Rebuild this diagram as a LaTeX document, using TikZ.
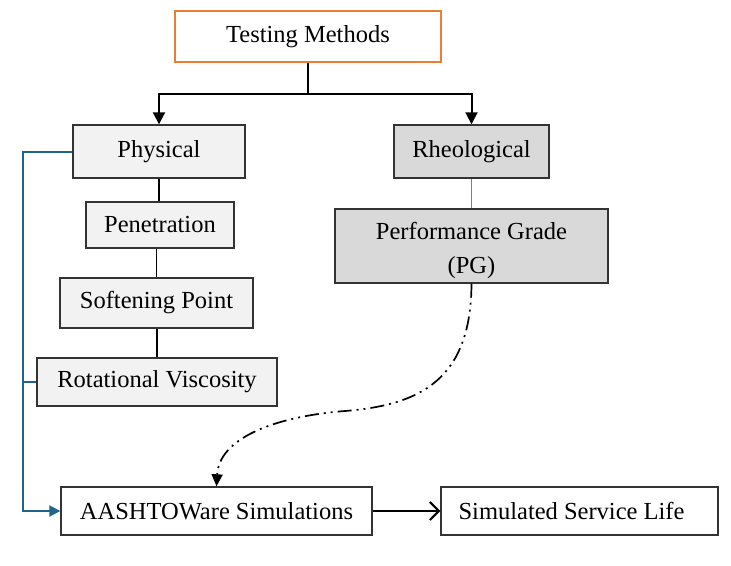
\documentclass[tikz,border=0pt]{standalone}
\usepackage{fontspec}
\setmainfont{Liberation Serif}
\usetikzlibrary{arrows.meta}
\definecolor{orangeb}{HTML}{ED7D31}
\definecolor{lightf}{HTML}{F2F2F2}
\definecolor{darkf}{HTML}{D9D9D9}
\definecolor{bordc}{HTML}{333333}
\definecolor{bluec}{RGB}{30,100,140}
\tikzset{
  box/.style={draw=bordc, line width=1.4pt, inner sep=0pt, anchor=center,
    font=\fontsize{24.5}{34}\selectfont, align=center},
  conn/.style={line width=2pt, black},
  thin/.style={line width=1.3pt, black},
}
\begin{document}
\begin{tikzpicture}[x=1pt,y=-1pt]
\useasboundingbox (0,0) rectangle (731,565);
\node[box, draw=orangeb, fill=white, minimum width=266pt, minimum height=51pt] (tm) at (308,36.5) {Testing Methods};
\node[box, fill=lightf, minimum width=172pt, minimum height=53pt] (phys) at (159,151.5) {Physical};
\node[box, fill=darkf, minimum width=155pt, minimum height=53pt] (rheo) at (471.5,151.5) {Rheological};
\node[box, fill=lightf, minimum width=148pt, minimum height=46pt] (pen) at (160,225) {Penetration};
\node[box, fill=lightf, minimum width=193pt, minimum height=50pt] (soft) at (156.5,303) {Softening Point};
\node[box, fill=lightf, minimum width=240pt, minimum height=48pt] (rot) at (157,382) {Rotational Viscosity};
\node[box, fill=darkf, minimum width=273pt, minimum height=74pt] (pg) at (471.5,246) {};
\node[font=\fontsize{24.5}{34}\selectfont, align=center, inner sep=0pt] (pgt) at (471.5,250) {Performance Grade\\(PG)};
\node[box, fill=white, minimum width=311pt, minimum height=48pt] (aash) at (216.5,511) {AASHTOWare Simulations};
\node[box, fill=white, minimum width=277pt, minimum height=48pt] (ssl) at (579.5,511) {Simulated Service Life\hspace*{16pt}};

\coordinate (split) at (308,94);
\coordinate (bl) at (23,0);

\draw[conn] (tm.south) -- (split);
\draw[conn, -{Triangle[length=12pt,width=12pt]}] (split) -| (phys.north);
\draw[conn, -{Triangle[length=12pt,width=12pt]}] (split) -| (rheo.north);

\draw[thin] (phys.south) -- (phys.south |- pen.north);
\draw[thin] (soft.north) -- (soft.north |- pen.south);
\draw[thin] (rot.north) -- (rot.north |- soft.south);
\draw[line width=1.2pt, gray] (rheo.south) -- (pg.north);

\draw[line width=2pt, bluec, -{Triangle[length=11pt,width=11pt]}] (phys.west) -- (phys.west -| bl) |- (aash.west);
\draw[line width=2pt, bluec] (rot.west -| bl) -- (rot.west);

\draw[line width=1.7pt, black, dash pattern=on 14pt off 5pt on 2pt off 5pt on 2pt off 5pt,
  -{Triangle[length=12pt,width=11pt]}]
  (pg.south) .. controls (471,380) and (420,405) .. (345,411)
  .. controls (270,417) and (219,440) .. (aash.north);

\draw[line width=2pt, black, -{Straight Barb[length=9pt,width=18pt]}] (aash.east) -- (ssl.west);
\end{tikzpicture}
\end{document}
